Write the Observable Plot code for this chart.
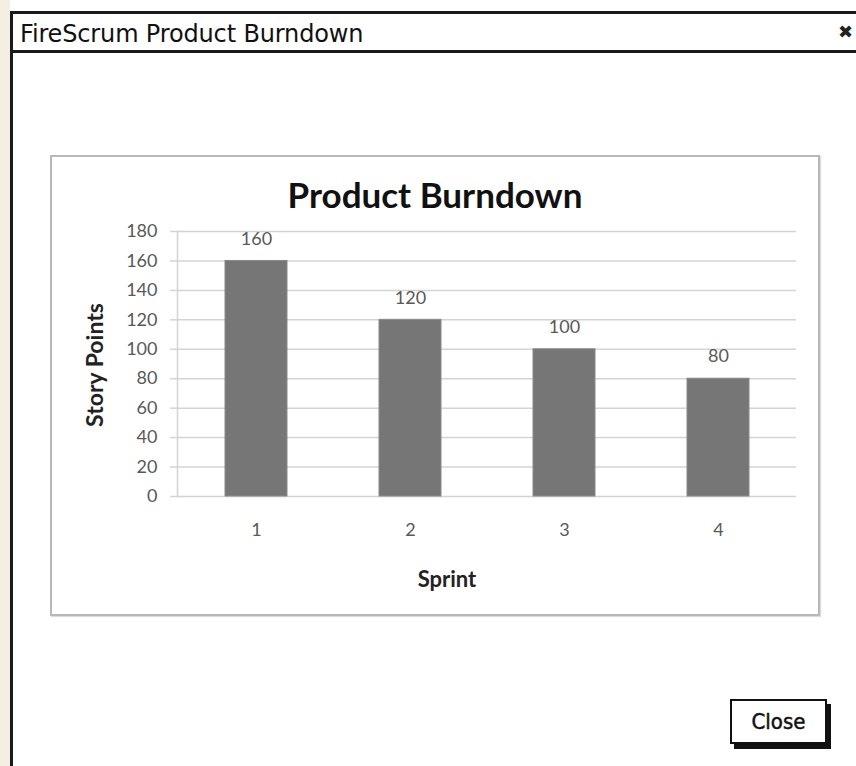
<!DOCTYPE html>
<html>
<head>
<meta charset="utf-8">
<script src="https://cdn.jsdelivr.net/npm/d3@7"></script>
<script src="https://cdn.jsdelivr.net/npm/@observablehq/plot@0.6"></script>
<style>
  html, body { margin: 0; padding: 0; }
  body { width: 856px; height: 766px; overflow: hidden; position: relative; background: #fff; }
  #strip { position: absolute; left: 0; top: 0; width: 10px; height: 766px; background: #f4efe2; }
  #win { position: absolute; left: 10px; top: 11px; width: 900px; height: 800px; border-left: 3px solid #1a1a1a; border-top: 3px solid #1a1a1a; background: #fff; }
  #titlebar { position: absolute; left: 0; top: 0; width: 900px; height: 36px; border-bottom: 3px solid #1a1a1a; }
  #wintitle { position: absolute; left: 7px; top: 6px; font-family: "DejaVu Sans"; font-size: 24px; color: #111; white-space: nowrap; letter-spacing: -0.15px; }
  #xicon { position: absolute; left: 825px; top: 7px; font-family: "DejaVu Sans"; font-size: 18px; color: #222; }
  #chartbox { position: absolute; left: 50px; top: 155px; width: 766px; height: 457px; border: 2px solid #b8b8b8; box-shadow: 1px 1px 1px #ddd; background: #fff; }
  #chartbox svg { position: absolute; left: 0; top: 0; }
  #closebtn { position: absolute; left: 730px; top: 699px; width: 93px; height: 41px; border: 2px solid #111; background: #fff; box-shadow: 4px 5px 0 #111; font-family: "DejaVu Sans"; font-stretch: condensed; font-size: 22px; color: #111; text-align: center; line-height: 41px; -webkit-text-stroke: 0.5px #111; }
</style>
</head>
<body>
<div id="strip"></div>
<div id="win"><div id="titlebar"><div id="wintitle">FireScrum Product Burndown</div><div id="xicon">✖</div></div></div>
<div id="chartbox"></div>
<div id="closebtn">Close</div>
<script>
const sprints = ["1", "2", "3", "4"];
const storyPoints = [160, 120, 100, 80];
const yTicks = [0, 20, 40, 60, 80, 100, 120, 140, 160, 180];
const chartTitle = "Product Burndown";
const xTitle = "Sprint";
const yTitle = "Story Points";

const data = sprints.map((s, i) => ({sprint: s, points: storyPoints[i]}));
const font = "Lato, 'Open Sans', sans-serif";

const chart = Plot.plot({
  width: 766,
  height: 457,
  marginLeft: 125,
  marginRight: 22,
  marginTop: 74,
  marginBottom: 118,
  style: {fontFamily: font, background: "transparent", overflow: "visible"},
  x: {domain: sprints, paddingInner: 0.6, paddingOuter: 0.3},
  y: {domain: [0, 180]},
  marks: [
    Plot.gridY(yTicks, {stroke: "#d4d4d4", strokeOpacity: 1, strokeWidth: 1.5}),
    Plot.frame({anchor: "left", stroke: "#d4d4d4", strokeWidth: 1.5}),
    Plot.axisY(yTicks, {tickSize: 7, tickPadding: 13, stroke: "#d4d4d4", strokeWidth: 1.5, fill: "#595959", fontSize: 18, label: null}),
    Plot.axisX({tickSize: 0, tickPadding: 27, fill: "#595959", fontSize: 18, label: null}),
    Plot.barY(data, {x: "sprint", y: "points", fill: "#767676", stroke: "#8a8a8a", strokeWidth: 1}),
    Plot.text(data, {x: "sprint", y: "points", text: d => String(d.points), dy: -22, fill: "#595959", fontSize: 18}),
    Plot.text([chartTitle], {frameAnchor: "top", textAnchor: "middle", lineAnchor: "middle", dx: -52, dy: -35, fontSize: 35, fontWeight: "bold", fill: "#111"}),
    Plot.text([xTitle], {frameAnchor: "bottom", textAnchor: "middle", lineAnchor: "middle", dx: -40, dy: 83, fontSize: 22, fontWeight: "bold", fill: "#222"}),
    Plot.text([yTitle], {frameAnchor: "left", textAnchor: "middle", lineAnchor: "middle", dx: -82, dy: 1, rotate: -90, fontSize: 23, fontWeight: "bold", fill: "#222"})
  ]
});
document.getElementById("chartbox").appendChild(chart);
</script>
</body>
</html>
